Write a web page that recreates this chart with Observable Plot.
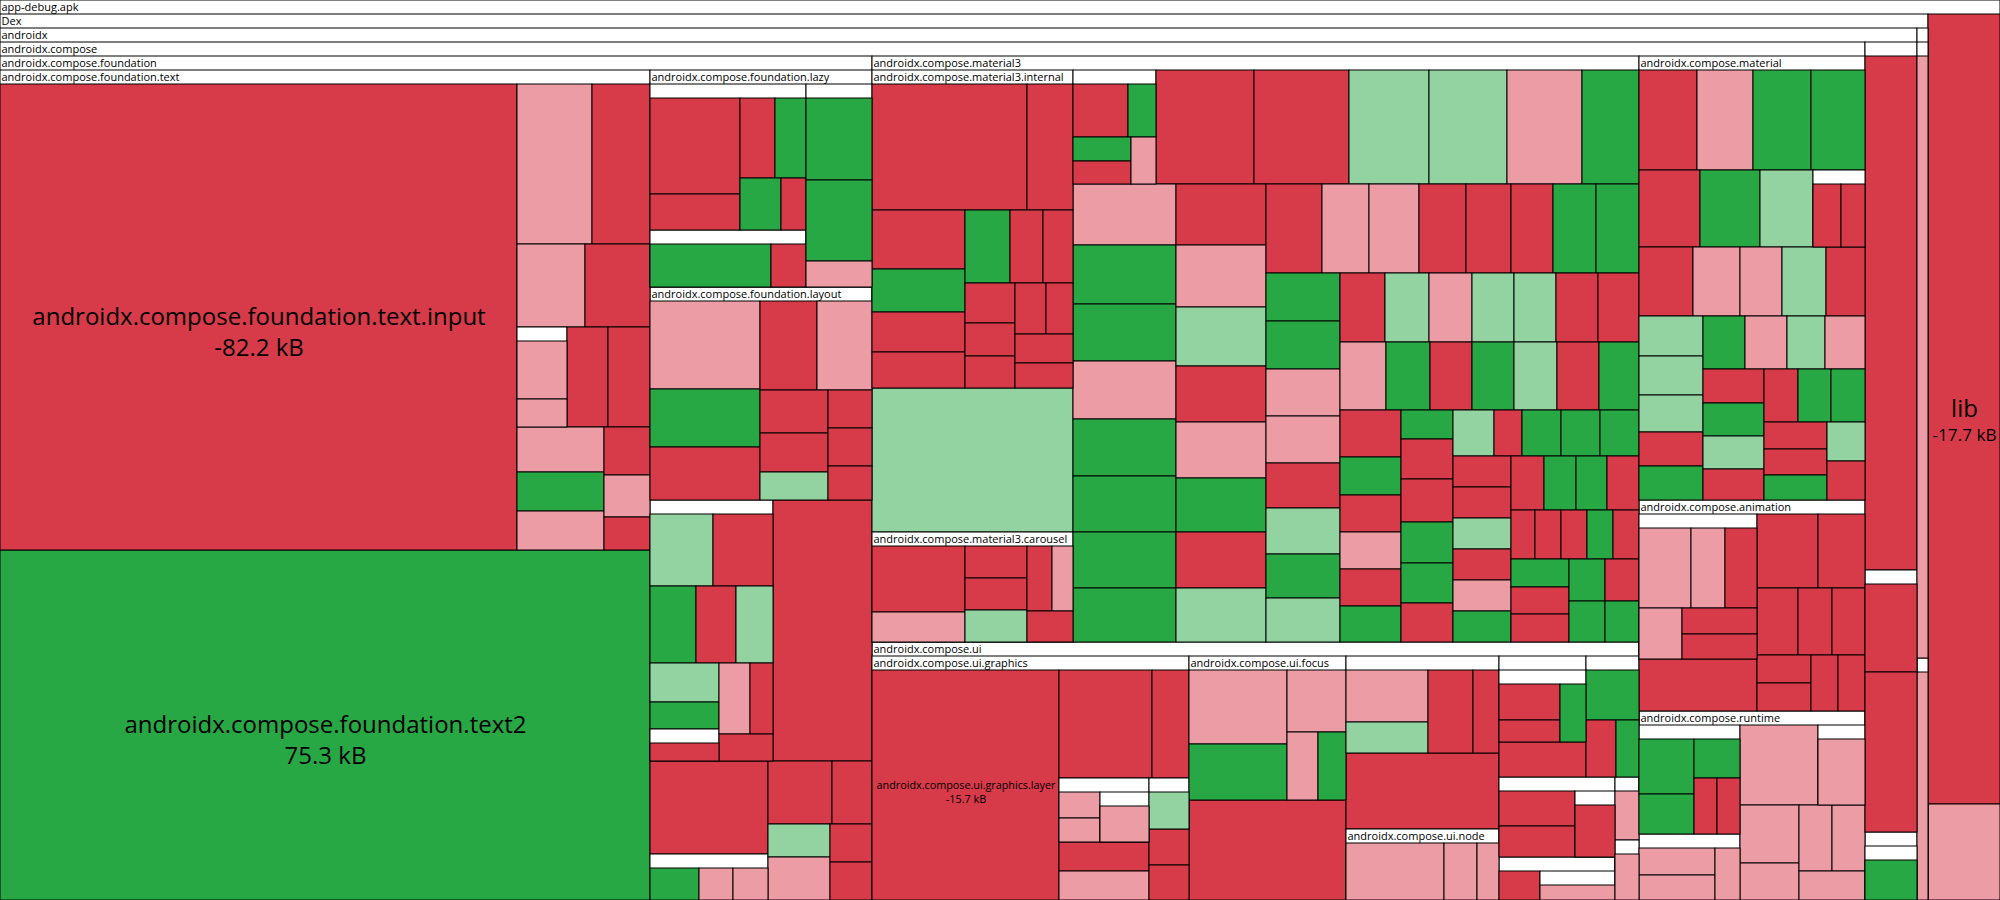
<!DOCTYPE html>
<html><head><meta charset="utf-8">
<script src="https://cdn.jsdelivr.net/npm/d3@7"></script>
<script src="https://cdn.jsdelivr.net/npm/@observablehq/plot@0.6"></script>
<style>html,body{margin:0;padding:0;background:#fff}</style>
</head><body><div id="chart"></div>
<script>
// Children lists in the order they are tiled: a string is a sub-package (or a named leaf),
// a number is a class size (|change|, area units). Codes: R removed, P shrunk, G added, L grew.
const rootKids = ["dex", "lib", 6.9], rootCodes = "P";
const dexKids = ["ax", "kt"], dexCodes = "";
const ktKids = ["kt1", "kt2"], ktCodes = "";
const kt1Kids = [6.6], kt1Codes = "P";
const kt2Kids = [2.5], kt2Codes = "P";
const axKids = ["cmp", "g1"], axCodes = "";
const g1Kids = [26.8, "g1a", "g1b"], g1Codes = "R";
const g1aKids = [4.6, 8.3], g1aCodes = "RR";
const g1bKids = ["g1bi"], g1bCodes = "";
const g1biKids = [2.1], g1biCodes = "G";
const cmpKids = ["fnd", "m3", "ui", "mat", "anim", "rt"], cmpCodes = "";
const fndKids = ["fText", "text2", "lazy", "layout", "fA", 26, 10.9, "fB", 4, 2.5, 2.1, 2.7, 1.6, 1.6], fndCodes = "RRRRLPRR";
const fTextKids = ["input", 12, 9.3, 5.6, 5.4, "fTextG", 4.1, 4.2, 3.9, 3.4, 3.4, 2.2, 1.9, 1.5], fTextCodes = "PRPRRRPGPRPR";
const fTextGKids = [2.9, 1.4], fTextGCodes = "PP";
const lazyKids = ["lazy1", "lazy2", "lazy3"], lazyCodes = "";
const lazy1Kids = [8.6, 3.3, 2.8, 2.5, 2.2, 1.3], lazy1Codes = "RRRGGR";
const lazy2Kids = [5.2, 1.5], lazy2Codes = "GR";
const lazy3Kids = [5.4, 5.4, 1.7], lazy3Codes = "GGP";
const layoutKids = [9.7, 6.4, 5.9, 5.1, 4.9, 2.9, 2.7, 1.9, 1.7, 1.7, 1.5], layoutCodes = "PGRRPRRLRRR";
const fAKids = [4.6, 4.3, 3.5, 3.1, 2.8, 2.7, 1.9, "fAs", 2.2, 1.6, 1.5], fACodes = "LRGRLLGPRR";
const fAsKids = [1.3], fAsCodes = "R";
const fBKids = [1.6, 1.1, 1.1], fBCodes = "GPP";
const m3Kids = ["m3i", 29.0, "car", "m3g", 11.1, 10.9, 9.1, 8.9, 8.5, 6.5,
  6.3, 6.1, 5.9, 5.9, 5.9, 5.8, 5.7, 5.6,
  5.5, 5.5, 5.3, 5.0, 5.0, 4.9, 5.0, 4.8,
  5.0, 4.2, 4.4, 4.2, 4.0, 3.8, 3.8, 3.8,
  3.6, 3.6, 3.5, 3.5, 3.4, 3.4, 3.3, 3.3,
  3.1, 3.0, 3.0, 2.9, 2.9, 2.9, 2.8,
  3.1, 3.0, 2.9, 2.9, 2.9, 2.9, 2.7, 2.9,
  2.3, 2.2, 2.3, 2.2, 2.2, 1.5,
  2.1, 2.2, 2.1, 2.1, 2.0, 1.9, 1.3,
  1.8, 1.8, 1.8, 1.8, 1.8,
  1.8, 1.8, 1.8, 1.8, 1.8,
  1.7, 1.7, 1.7, 1.2,
  1.3, 1.3, 1.3, 1.3,
  1.6, 1.6, 1.6,
  1.5, 1.4, 1.5, 1.4];
const m3Codes = "LRRLLPG" + "PGGPGGGG" + "RPLRPGRL" + "RPPRRRGG" + "GGPPRLGL" + "RLPLLRR" +
  "PGRGLRGR" + "GRPRGG" + "RRGGRLR" + "GGGRR" + "LRPGR" + "GGRR" + "RRGR" + "GRR" + "GRGG";
const m3iKids = [19.6, 5.8, 5.5, 4, 3.7, 3.4, 3.3, 2.4, 2.2, 2, 1.6, 1.6, 1.6, 1.4, 1.7, 1.5], m3iCodes = "RRRGRRGRRRRRRRRR";
const carKids = [6.1, 2.8, 2, 2, 2, 1.6, 1.4, 1.4], carCodes = "RPRRLRPR";
const m3gKids = [2.9, 1.5, 1.4, 1.3, 1.2], m3gCodes = "RGGRP";
const matKids = [5.8, 5.7, 5.8, 5.4, 4.7, 4.6, 4.1, "matg", 3.7, 3.3, 2.9, 3.0, 2.7, 2.6, 2.5, 2.4, 2.2, 2.2,
  2.2, 2.2, 2.0, 2.1, 2.1, 2.0, 2.0, 1.9, 1.8, 1.8, 1.8, 1.7, 1.6, 1.6, 1.5, 1.5];
const matCodes = "RPGG" + "RGL" + "RPPLR" + "LLLRG" + "GPLPR" + "GLR" + "RGG" + "RR" + "GLR";
const matgKids = [1.8, 1.5], matgCodes = "RR";
const animKids = ["animg", 6.1, 4.5, 3.5, 2.7, 2.3, 2.2, 1.5, 1.5, 1.5, 1.5], animCodes = "RRRRRRRRRR";
const animgKids = [4.2, 2.7, 2.6, 2.2, 2.0, 1.9], animgCodes = "PPRPRR";
const rtKids = ["rt1", "rt2", 6.3, "rt3", 3.4, 2.2, 2.2, 2.2, 1.9], rtCodes = "PPPPPP";
const rt1Kids = [3.0, 2.2, 1.8, 1.3, 1.3], rt1Codes = "GGGRR";
const rt2Kids = [2.1, 1.9, 1.3], rt2Codes = "PPP";
const rt3Kids = [3.1], rt3Codes = "P";
const uiKids = ["gfx", "focus", 15.8, "uiX", 11.6, "node", "uiY1", "uiY3", "uiZ1", "uiZ2", "uiZ3"], uiCodes = "RR";
const gfxKids = ["layer", 10.1, 3.9, "gfx1", 2.6, 2.6, "gfx2", 1.4, 1.4], gfxCodes = "RRRPRR";
const gfx1Kids = [1.1, 1.0, "gfx1s"], gfx1Codes = "PP";
const gfx1sKids = [1.8], gfx1sCodes = "P";
const gfx2Kids = [1.5], gfx2Codes = "L";
const focusKids = [7.3, 5.5, 3.7, 2.1, 1.9], focusCodes = "PGPPG";
const uiXKids = [4.3, 2.5, 3.8, 2.1], uiXCodes = "PLRR";
const nodeKids = [5.6, 1.9, 1.2], nodeCodes = "PPP";
const uiY1Kids = ["uiY1i", 3.0], uiY1Codes = "R";
const uiY1iKids = [2.2, 1.4, 1.5], uiY1iCodes = "RRG";
const uiY3Kids = [2.7, 1.7, 1.3], uiY3Codes = "GRG";
const uiZ1Kids = [2.7, 2.4, "uiZ1s"], uiZ1Codes = "RR";
const uiZ1sKids = [2.1], uiZ1sCodes = "R";
const uiZ2Kids = [1.2, "uiZ2s"], uiZ2Codes = "R";
const uiZ2sKids = [1.1], uiZ2sCodes = "P";
const uiZ3Kids = [1.2, "uiZ3s"], uiZ3Codes = "P";
const uiZ3sKids = [1.1], uiZ3sCodes = "P";

// packages: [id, label, children, codes]
const groups = [
  ["root", "app-debug.apk", rootKids, rootCodes], ["dex", "Dex", dexKids, dexCodes],
  ["kt", "", ktKids, ktCodes], ["kt1", "", kt1Kids, kt1Codes], ["kt2", "", kt2Kids, kt2Codes],
  ["ax", "androidx", axKids, axCodes], ["g1", "", g1Kids, g1Codes], ["g1a", "", g1aKids, g1aCodes],
  ["g1b", "", g1bKids, g1bCodes], ["g1bi", "", g1biKids, g1biCodes],
  ["cmp", "androidx.compose", cmpKids, cmpCodes],
  ["fnd", "androidx.compose.foundation", fndKids, fndCodes],
  ["fText", "androidx.compose.foundation.text", fTextKids, fTextCodes], ["fTextG", "", fTextGKids, fTextGCodes],
  ["lazy", "androidx.compose.foundation.lazy", lazyKids, lazyCodes],
  ["lazy1", "", lazy1Kids, lazy1Codes], ["lazy2", "", lazy2Kids, lazy2Codes], ["lazy3", "", lazy3Kids, lazy3Codes],
  ["layout", "androidx.compose.foundation.layout", layoutKids, layoutCodes],
  ["fA", "", fAKids, fACodes], ["fAs", "", fAsKids, fAsCodes], ["fB", "", fBKids, fBCodes],
  ["m3", "androidx.compose.material3", m3Kids, m3Codes],
  ["m3i", "androidx.compose.material3.internal", m3iKids, m3iCodes],
  ["car", "androidx.compose.material3.carousel", carKids, carCodes], ["m3g", "", m3gKids, m3gCodes],
  ["mat", "androidx.compose.material", matKids, matCodes], ["matg", "", matgKids, matgCodes],
  ["anim", "androidx.compose.animation", animKids, animCodes], ["animg", "", animgKids, animgCodes],
  ["rt", "androidx.compose.runtime", rtKids, rtCodes], ["rt1", "", rt1Kids, rt1Codes],
  ["rt2", "", rt2Kids, rt2Codes], ["rt3", "", rt3Kids, rt3Codes],
  ["ui", "androidx.compose.ui", uiKids, uiCodes],
  ["gfx", "androidx.compose.ui.graphics", gfxKids, gfxCodes], ["gfx1", "", gfx1Kids, gfx1Codes],
  ["gfx1s", "", gfx1sKids, gfx1sCodes], ["gfx2", "", gfx2Kids, gfx2Codes],
  ["focus", "androidx.compose.ui.focus", focusKids, focusCodes],
  ["uiX", "", uiXKids, uiXCodes], ["node", "androidx.compose.ui.node", nodeKids, nodeCodes],
  ["uiY1", "", uiY1Kids, uiY1Codes], ["uiY1i", "", uiY1iKids, uiY1iCodes], ["uiY3", "", uiY3Kids, uiY3Codes],
  ["uiZ1", "", uiZ1Kids, uiZ1Codes], ["uiZ1s", "", uiZ1sKids, uiZ1sCodes],
  ["uiZ2", "", uiZ2Kids, uiZ2Codes], ["uiZ2s", "", uiZ2sKids, uiZ2sCodes],
  ["uiZ3", "", uiZ3Kids, uiZ3Codes], ["uiZ3s", "", uiZ3sKids, uiZ3sCodes]
];

// labelled leaves: [id, code, size, name, delta]
const namedLeaves = [
  ["input", "R", 241, "androidx.compose.foundation.text.input", "-82.2 kB"],
  ["text2", "G", 228, "androidx.compose.foundation.text2", "75.3 kB"],
  ["lib", "R", 56.9, "lib", "-17.7 kB"],
  ["layer", "R", 43, "androidx.compose.ui.graphics.layer", "-15.7 kB"]
];

const colorOf = {R: "#d73a49", P: "#eb9ca4", G: "#28a745", L: "#93d3a2"};

// ---- build tree ----
const gmap = new Map(groups.map(g => [g[0], g]));
const nmap = new Map(namedLeaves.map(l => [l[0], l]));
function build(id) {
  if (nmap.has(id)) { const [, c, size, name, delta] = nmap.get(id); return {c, size, name, delta}; }
  const [, label, kids, codes] = gmap.get(id);
  let ci = 0;
  return {id, label, children: kids.map(k => typeof k === "string" ? build(k) : {c: codes[ci++], size: k})};
}
const W = 2000, H = 900, HEAD = 14;
const root = d3.hierarchy(build("root")).sum(d => d.children ? 0 : d.size);
const allow = new Map();
const tile = (node, x0, y0, x1, y1) => {
  const v = node.value;
  node.value = d3.sum(node.children, c => c.value);
  d3.treemapSquarify(node, x0, y0, x1, y1);
  node.value = v;
};
const layout = d3.treemap().size([W, H]).paddingTop(HEAD).round(true).tile(tile);
for (let it = 0; it < 14; it++) {
  root.eachAfter(n => { if (n.children) n.value = d3.sum(n.children, c => c.value) + (allow.get(n) || 0); });
  layout(root);
  const k = root.value / (W * H);
  root.each(n => { if (n.children) allow.set(n, (n.x1 - n.x0) * HEAD * k); });
}

const nodes = root.descendants();
const rects = nodes.map(n => ({x0: n.x0, x1: n.x1, y0: n.y0, y1: n.y1, fill: n.children ? "#ffffff" : colorOf[n.data.c]}));

const ctx = document.createElement("canvas").getContext("2d");
const FONT = "'Open Sans', sans-serif";
const tw = (s, size) => { ctx.font = `${size}px ${FONT}`; return ctx.measureText(s).width; };
const HFS = 11;
const headers = nodes.filter(n => n.children && n.data.label && tw(n.data.label, HFS) + 2 <= n.x1 - n.x0)
  .map(n => ({x: n.x0 + 1, y: n.y0 + 7, label: n.data.label}));
const leafLines = [];
for (const n of nodes) {
  if (n.children || !n.data.name) continue;
  const w = n.x1 - n.x0, cx = (n.x0 + n.x1) / 2, cy = (n.y0 + n.y1) / 2;
  const f1 = Math.min(24, 24 * (w - 8) / tw(n.data.name, 24));
  const f2 = Math.min(f1, 24 * (w - 8) / tw(n.data.delta, 24));
  leafLines.push({x: cx, y: cy, text: n.data.name, size: f1});
  leafLines.push({x: cx, y: cy + 0.5 * f1 + 0.8 * f2, text: n.data.delta, size: f2});
}

const chart = Plot.plot({
  width: W, height: H, margin: 0,
  x: {domain: [0, W], range: [0, W], axis: null},
  y: {domain: [0, H], range: [0, H], axis: null},
  color: {type: "identity"},
  style: {fontFamily: FONT, background: "white"},
  marks: [
    Plot.rect(rects, {x1: "x0", x2: "x1", y1: "y0", y2: "y1", fill: "fill", stroke: "black", strokeWidth: 1}),
    Plot.text(headers, {x: "x", y: "y", text: "label", textAnchor: "start", lineAnchor: "middle", fontSize: HFS, fill: "black"}),
    Plot.text(leafLines, {x: "x", y: "y", text: "text", fontSize: d => d.size, textAnchor: "middle", lineAnchor: "middle", fill: "black"})
  ]
});
document.getElementById("chart").appendChild(chart);
</script></body></html>
